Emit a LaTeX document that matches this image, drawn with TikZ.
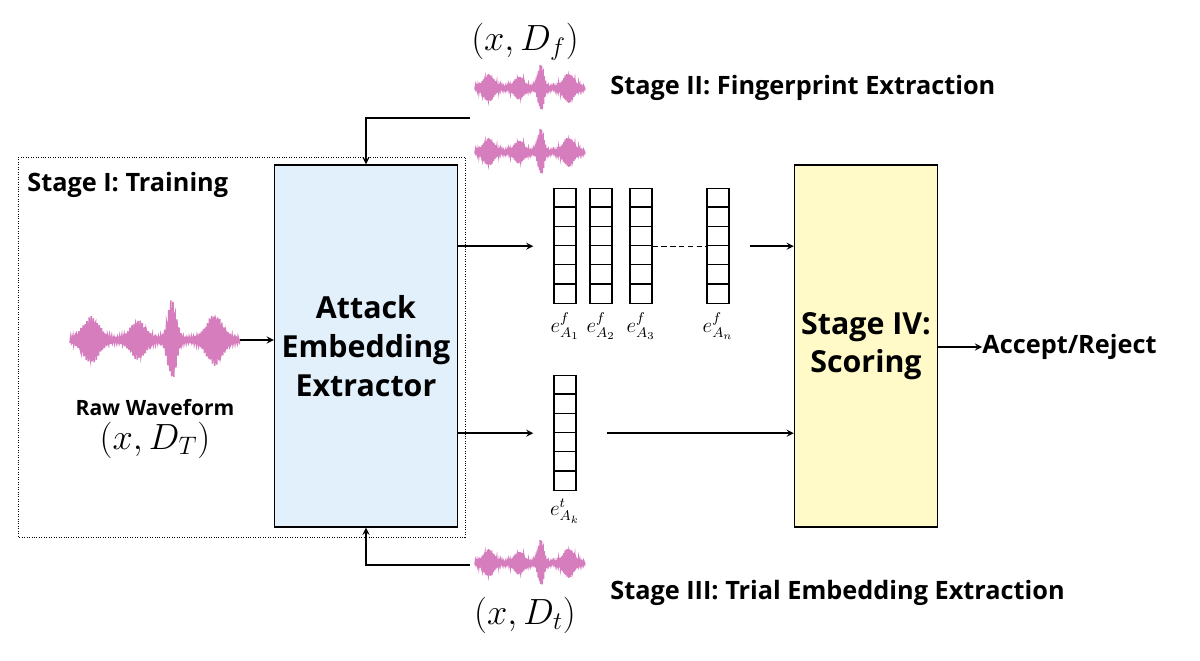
\documentclass[tikz,border=0pt]{standalone}
\usepackage{amsmath}
\usepackage{fontspec}
\setsansfont{Open Sans}
\usetikzlibrary{shapes,arrows,positioning}
\definecolor{boxblue}{RGB}{226,240,251}
\definecolor{boxyellow}{RGB}{255,250,200}
\definecolor{wavepink}{RGB}{214,125,190}
\tikzstyle{arrow} = [thick,->,>=stealth]
\tikzstyle{line} = [thick]
\tikzstyle{label} = [font=\sffamily\bfseries\Large, anchor=west, inner sep=0pt]
% waveform: centre, half width, half height
\newcommand{\wave}[4]{%
  \begin{scope}[shift={(#1,#2)}]
    \draw[wavepink, line width=0.9pt] plot[domain=-1:1, samples=400]
      (\x*#3, {#4*(0.08+0.55*exp(-((\x+0.75)/0.13)^2)+0.45*exp(-((\x+0.2)/0.12)^2)+1*exp(-((\x-0.2)/0.07)^2)+0.6*exp(-((\x-0.7)/0.13)^2))*sin(\x*15000)});
  \end{scope}}
% embedding vector: name, centre x, top y
\newcommand{\embvec}[3]{%
  \node[draw, thick, minimum width=0.44cm, minimum height=2.3cm, inner sep=0, anchor=north] (#1) at (#2,#3) {};
  \foreach \k in {1,...,5} \draw[thick] ([yshift=-\k*2.3cm/6]#1.north west) -- ([yshift=-\k*2.3cm/6]#1.north east);}
\begin{document}
\begin{tikzpicture}[x=0.02cm, y=-0.02cm]
    \useasboundingbox (0,0) rectangle (1200,661);
    % stage I
    \draw[densely dotted] (18,157) rectangle (465,537);
    \node[label] (train) at (27,185) {Stage I: Training};
    \node[draw, thick, fill=boxblue, minimum width=183*0.02cm, minimum height=362*0.02cm, inner sep=0,
          font=\sffamily\bfseries\LARGE, align=center] (extr) at (366,346) {Attack\\Embedding\\Extractor};
    \wave{155}{340}{85}{38}
    \coordinate (rawend) at (240,340);
    \draw[arrow] (rawend) -- (extr.west |- rawend);
    \node[font=\sffamily\bfseries\large] (rawlbl) at (155,408) {Raw Waveform};
    \node[font=\huge] (rawset) at (155,440) {$(x, D_T)$};
    % stage II
    \node[font=\huge] (fset) at (525,42) {$(x, D_f)$};
    \wave{530}{88}{55}{22}
    \wave{530}{152}{55}{22}
    \node[label] (stage2) at (610,88) {Stage II: Fingerprint Extraction};
    \coordinate (ftop) at (470,118);
    \draw[line] (ftop) -| (366,140);
    \draw[arrow] (366,140) -- (extr.north);
    % stage III
    \wave{530}{563}{55}{22}
    \node[label] (stage3) at (610,593) {Stage III: Trial Embedding Extraction};
    \node[font=\huge] (tset) at (525,615) {$(x, D_t)$};
    \coordinate (tbot) at (470,565);
    \draw[line] (tbot) -| (366,545);
    \draw[arrow] (366,545) -- (extr.south);
    % embeddings
    \embvec{f1}{565}{188}
    \embvec{f2}{601}{188}
    \embvec{f3}{641}{188}
    \embvec{fn}{718}{188}
    \embvec{tk}{565}{375}
    \node[below=1pt of f1, font=\large] (lf1) {$e^{f}_{A_1}$};
    \node[below=1pt of f2, font=\large] (lf2) {$e^{f}_{A_2}$};
    \node[below=1pt of f3, font=\large] (lf3) {$e^{f}_{A_3}$};
    \node[below=1pt of fn, font=\large] (lfn) {$e^{f}_{A_n}$};
    \node[below=1pt of tk, font=\large] (ltk) {$e^{t}_{A_k}$};
    \draw[densely dashed] (f3.east) -- (fn.west);
    \draw[arrow] (extr.east |- f1) -- ([xshift=-0.4cm]f1.west);
    \draw[arrow] (extr.east |- tk) -- ([xshift=-0.4cm]tk.west);
    % stage IV
    \node[draw, thick, fill=boxyellow, minimum width=143*0.02cm, minimum height=362*0.02cm, inner sep=0,
          font=\sffamily\bfseries\LARGE, align=center] (score) at (866,346) {Stage IV:\\Scoring};
    \draw[arrow] ([xshift=0.4cm]fn.east) -- (score.west |- fn);
    \draw[arrow] ([xshift=0.6cm]tk.east) -- (score.west |- tk);
    \node[label] (decide) at (982,347) {Accept/Reject};
    \draw[arrow] (score.east |- decide) -- (decide.west);
\end{tikzpicture}
\end{document}
